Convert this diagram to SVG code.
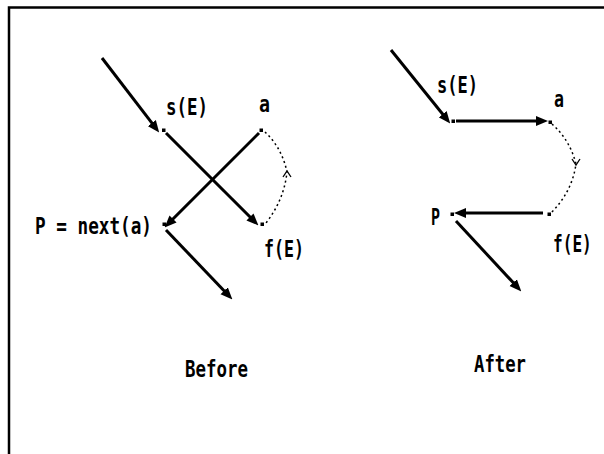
<svg xmlns="http://www.w3.org/2000/svg" width="604" height="454" viewBox="0 0 604 454">
<style>
  .t { font-family: "DejaVu Sans Mono", "Liberation Mono", monospace; font-size: 23px; font-weight: bold; fill: #000; }
  .thick { stroke: #000; stroke-width: 3; fill: none; marker-end: url(#ah); }
  .dot { fill: #000; }
  .dash { stroke: #000; stroke-width: 1.5; fill: none; stroke-dasharray: 2 3; }
  .chev { stroke: #000; stroke-width: 1.3; fill: none; }
</style>
<defs>
  <marker id="ah" markerUnits="userSpaceOnUse" markerWidth="12" markerHeight="11" refX="4" refY="5.5" orient="auto">
    <path d="M0,0.5 L12,5.5 L0,10.5 z" fill="#000"/>
  </marker>
</defs>
<rect width="604" height="454" fill="#fff"/>
<path id="frame" d="M9,454 V7.5 H604" fill="none" stroke="#000" stroke-width="2.5"/>

<g id="connectors">
  <line class="thick" x1="102" y1="58" x2="154.3" y2="126.2"/>
  <line class="thick" x1="166" y1="133" x2="252.8" y2="219.8"/>
  <line class="thick" x1="259" y1="133" x2="170.2" y2="221.8"/>
  <line class="thick" x1="166" y1="230" x2="226.9" y2="293.7"/>
  <path class="dash" d="M265,132 Q282,148 287,172 Q284,200 266,223"/>
  <path class="chev" d="M283,177 L287,171 L291,177"/>

  <line class="thick" x1="391" y1="50" x2="445.2" y2="117.3"/>
  <line class="thick" x1="456" y1="121" x2="540" y2="121"/>
  <line class="thick" x1="543" y1="213" x2="462" y2="213"/>
  <line class="thick" x1="456" y1="221" x2="515.9" y2="285.6"/>
  <path class="dash" d="M552,124 Q570,140 576,164 Q572,192 551,213"/>
  <path class="chev" d="M572,159 L576,165 L580,159"/>
</g>

<g id="before-s">
  <rect class="dot" x="162" y="128.5" width="3.5" height="3.5"/>
  <text class="t" x="166" y="115" textLength="42" lengthAdjust="spacingAndGlyphs">s(E)</text>
</g>
<g id="before-a">
  <rect class="dot" x="259.5" y="128.5" width="3.5" height="3.5"/>
  <text class="t" x="259" y="112" textLength="11" lengthAdjust="spacingAndGlyphs">a</text>
</g>
<g id="before-p">
  <rect class="dot" x="162.5" y="222.5" width="3.5" height="3.5"/>
  <text class="t" x="35" y="234" textLength="117" lengthAdjust="spacingAndGlyphs">P = next(a)</text>
</g>
<g id="before-f">
  <rect class="dot" x="260.5" y="222.5" width="3.5" height="3.5"/>
  <text class="t" x="264" y="257" textLength="40" lengthAdjust="spacingAndGlyphs">f(E)</text>
</g>
<text id="before-label" class="t" x="185" y="377" textLength="63" lengthAdjust="spacingAndGlyphs">Before</text>

<g id="after-s">
  <rect class="dot" x="451.5" y="119.5" width="3.5" height="3.5"/>
  <text class="t" x="437" y="93" textLength="41" lengthAdjust="spacingAndGlyphs">s(E)</text>
</g>
<g id="after-a">
  <rect class="dot" x="548.5" y="120.5" width="3.5" height="3.5"/>
  <text class="t" x="554" y="107" textLength="10" lengthAdjust="spacingAndGlyphs">a</text>
</g>
<g id="after-p">
  <rect class="dot" x="450.5" y="212.5" width="3.5" height="3.5"/>
  <text class="t" x="431" y="225" textLength="9" lengthAdjust="spacingAndGlyphs">P</text>
</g>
<g id="after-f">
  <rect class="dot" x="547.5" y="212.5" width="3.5" height="3.5"/>
  <text class="t" transform="translate(553,252) scale(0.7,1)" x="0" y="0">f(E)</text>
</g>
<text id="after-label" class="t" x="474" y="372" textLength="52" lengthAdjust="spacingAndGlyphs">After</text>
</svg>
